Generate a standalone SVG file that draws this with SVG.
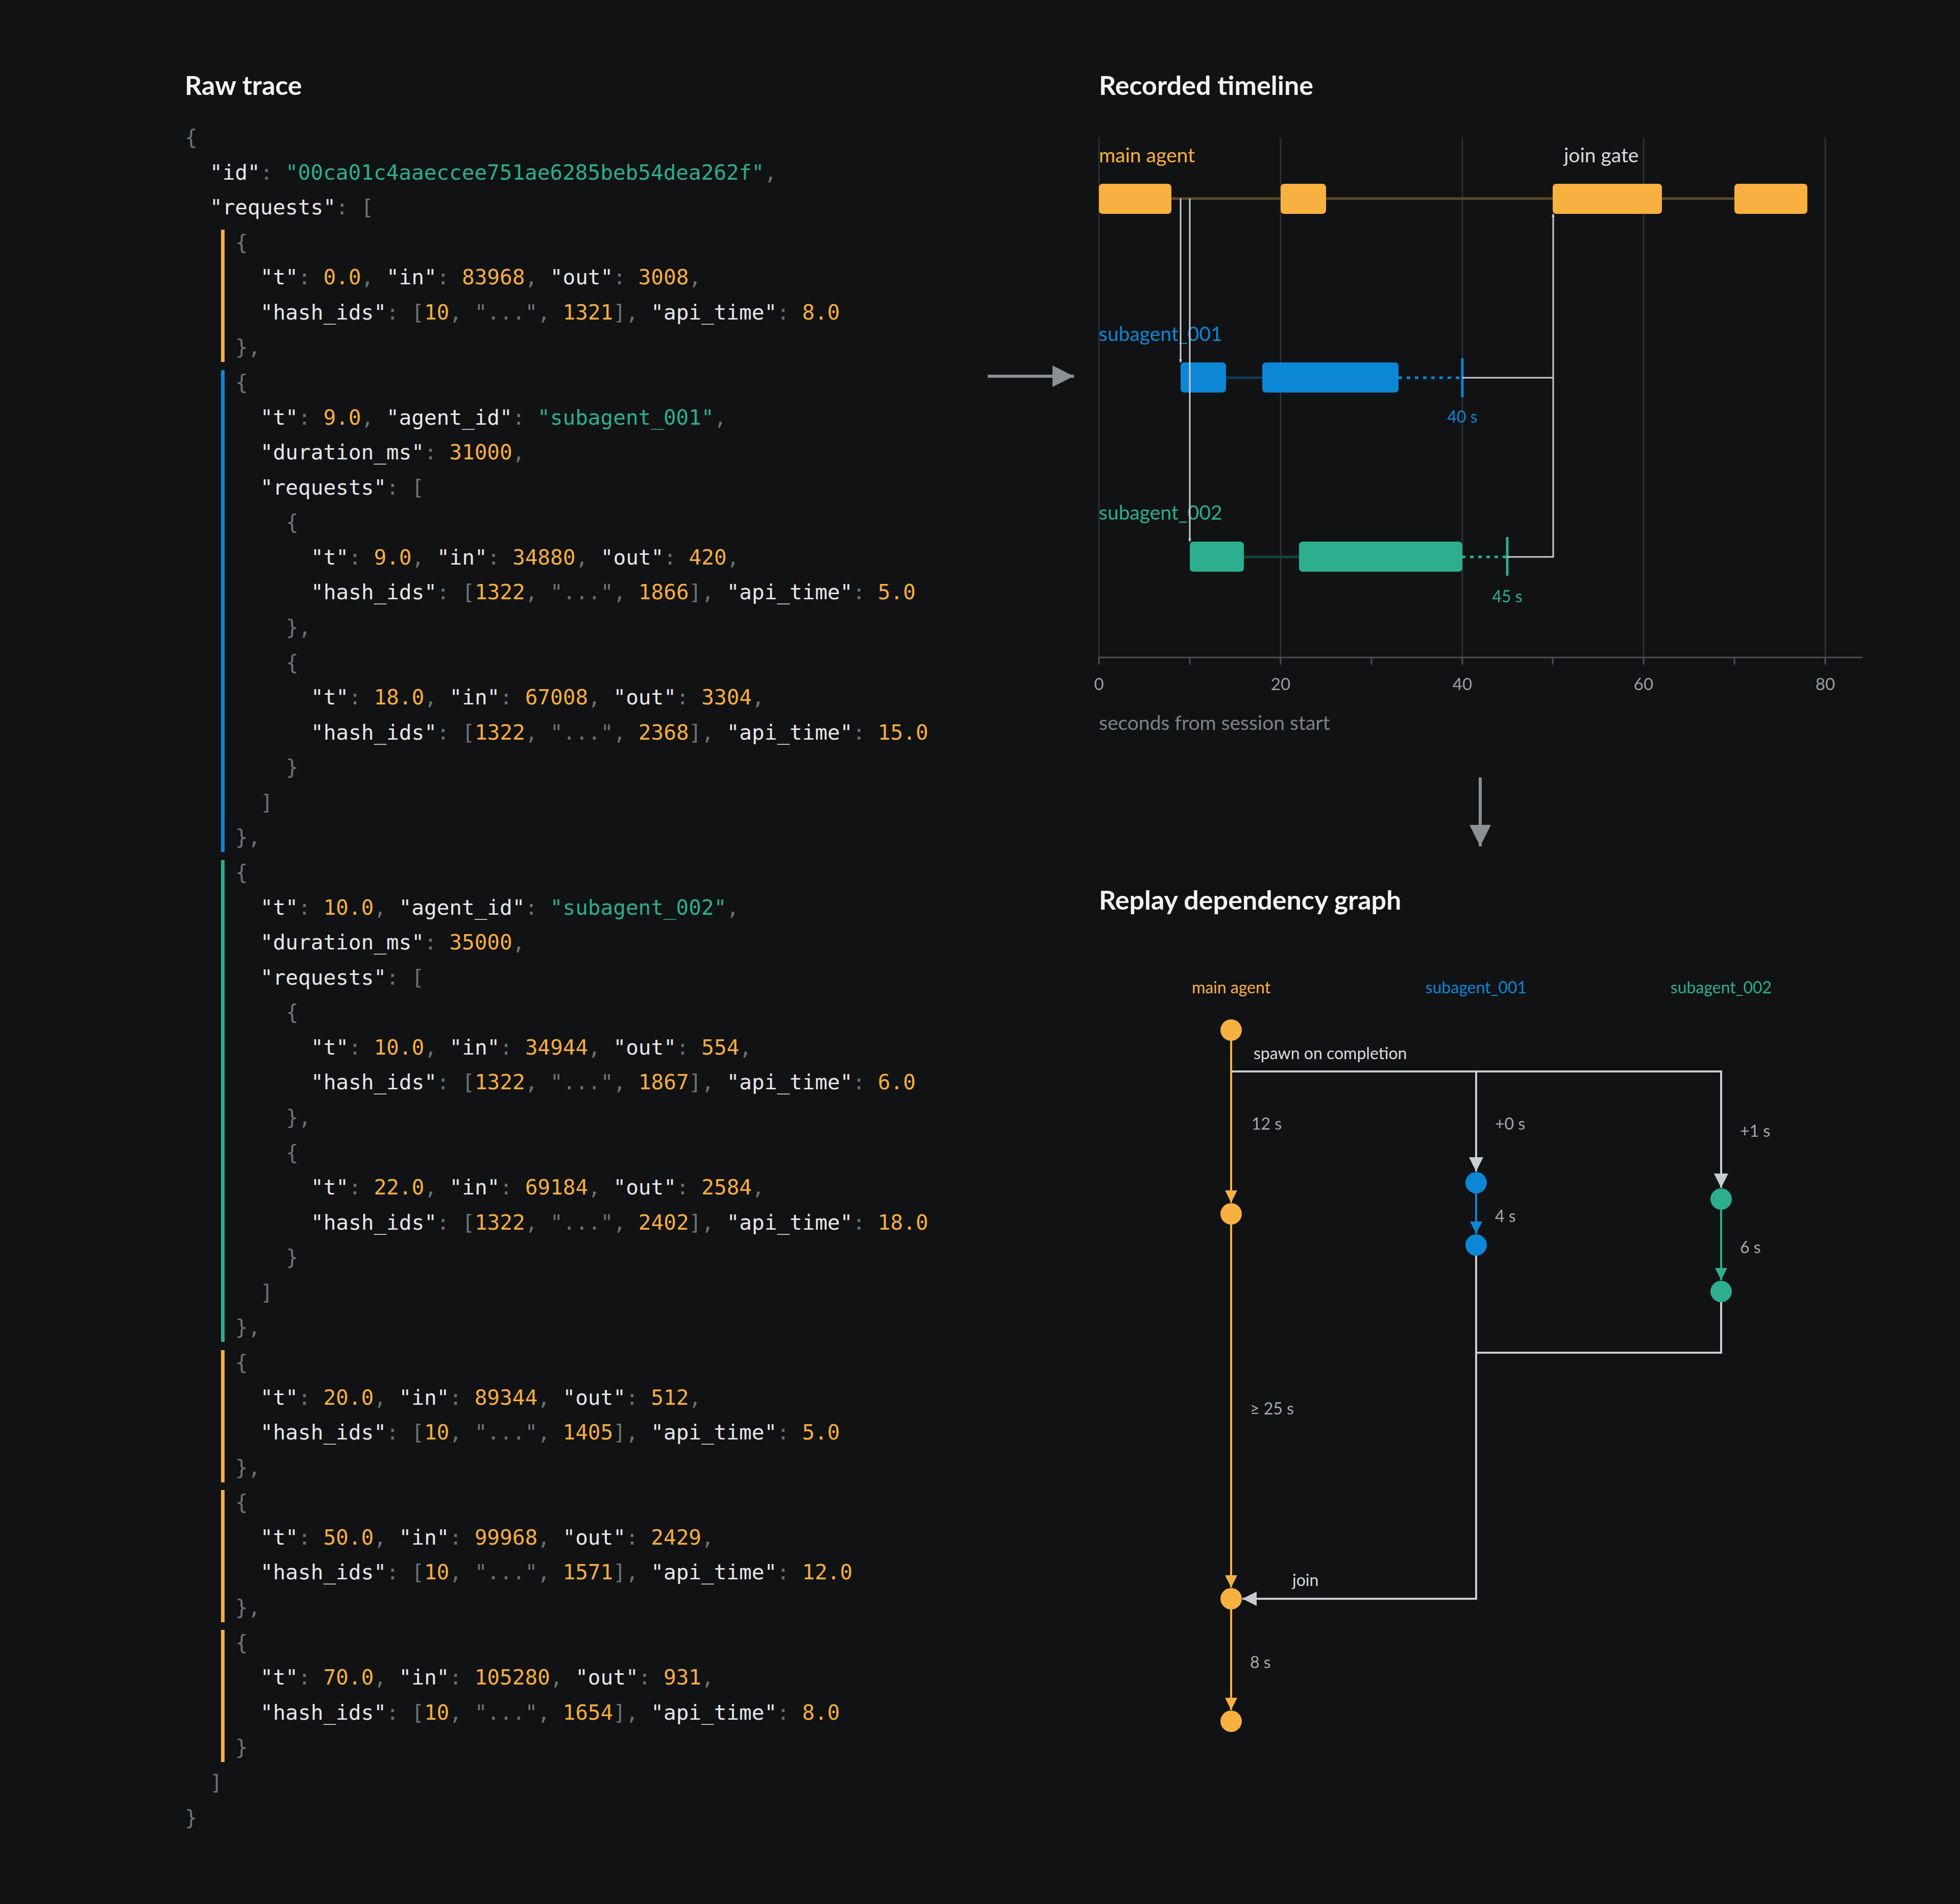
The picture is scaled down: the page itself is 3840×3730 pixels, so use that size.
<svg xmlns="http://www.w3.org/2000/svg" width="3840" height="3730" viewBox="0 0 3840 3730">
<style>
.code{font-family:"DejaVu Sans Mono","Liberation Mono",monospace;font-size:41px;fill:#e6e7e8}
.p{fill:#6d7277}.n{fill:#f6ae3f}.s{fill:#2cae8f}
.title{font-family:Lato,"Noto Sans",sans-serif;font-weight:bold;font-size:52px;fill:#f2f3f4}
.lab{font-family:Lato,"Noto Sans",sans-serif;font-size:39px}
.sm{font-family:Lato,"Noto Sans",sans-serif;font-size:32px}
.tick{font-family:Lato,"Noto Sans",sans-serif;font-size:33px;fill:#9a9fa4}
.g{stroke:#c9cdd1;stroke-width:4;fill:none}
.grid{stroke:#2c2f33;stroke-width:3}
</style>
<defs>
<marker id="ag" viewBox="0 0 10 10" refX="10" refY="5" markerWidth="6" markerHeight="6" markerUnits="userSpaceOnUse" orient="auto"><path d="M0,0L10,5L0,10z" fill="#c9cdd1"/></marker>
<marker id="agl" viewBox="0 0 10 10" refX="10" refY="5" markerWidth="7" markerHeight="7" orient="auto"><path d="M0,0L10,5L0,10z" fill="#c9cdd1"/></marker>
<marker id="ao" viewBox="0 0 10 10" refX="10" refY="5" markerWidth="6" markerHeight="6" orient="auto"><path d="M0,0L10,5L0,10z" fill="#f8b040"/></marker>
<marker id="ab" viewBox="0 0 10 10" refX="10" refY="5" markerWidth="6" markerHeight="6" orient="auto"><path d="M0,0L10,5L0,10z" fill="#0c87d5"/></marker>
<marker id="agr" viewBox="0 0 10 10" refX="10" refY="5" markerWidth="6" markerHeight="6" orient="auto"><path d="M0,0L10,5L0,10z" fill="#2cae8f"/></marker>
<marker id="abig" viewBox="0 0 10 10" refX="10" refY="5" markerWidth="7" markerHeight="7" orient="auto"><path d="M0,0L10,5L0,10z" fill="#8b9095"/></marker>
</defs>
<rect width="3840" height="3730" fill="#111214"/>

<g id="raw-trace">
<text class="title" x="362" y="186">Raw trace</text>
<g fill="#f8b040"><rect x="433" y="450" width="7" height="259"/><rect x="433" y="2645" width="7" height="259"/><rect x="433" y="2919" width="7" height="259"/><rect x="433" y="3193" width="7" height="259"/></g>
<rect x="433" y="725" width="7" height="944" fill="#0c87d5"/>
<rect x="433" y="1685" width="7" height="944" fill="#2cae8f"/>
<g class="code" xml:space="preserve">
<text x="362" y="283"><tspan class="p">{</tspan></text>
<text x="411" y="352">"id"<tspan class="p">: </tspan><tspan class="s">"00ca01c4aaeccee751ae6285beb54dea262f"</tspan><tspan class="p">,</tspan></text>
<text x="411" y="420">"requests"<tspan class="p">: [</tspan></text>
<text x="461" y="489"><tspan class="p">{</tspan></text>
<text x="510" y="557">"t"<tspan class="p">: </tspan><tspan class="n">0.0</tspan><tspan class="p">, </tspan>"in"<tspan class="p">: </tspan><tspan class="n">83968</tspan><tspan class="p">, </tspan>"out"<tspan class="p">: </tspan><tspan class="n">3008</tspan><tspan class="p">,</tspan></text>
<text x="510" y="626">"hash_ids"<tspan class="p">: [</tspan><tspan class="n">10</tspan><tspan class="p">, "...", </tspan><tspan class="n">1321</tspan><tspan class="p">], </tspan>"api_time"<tspan class="p">: </tspan><tspan class="n">8.0</tspan></text>
<text x="461" y="694"><tspan class="p">},</tspan></text>
<text x="461" y="763"><tspan class="p">{</tspan></text>
<text x="510" y="832">"t"<tspan class="p">: </tspan><tspan class="n">9.0</tspan><tspan class="p">, </tspan>"agent_id"<tspan class="p">: </tspan><tspan class="s">"subagent_001"</tspan><tspan class="p">,</tspan></text>
<text x="510" y="900">"duration_ms"<tspan class="p">: </tspan><tspan class="n">31000</tspan><tspan class="p">,</tspan></text>
<text x="510" y="969">"requests"<tspan class="p">: [</tspan></text>
<text x="560" y="1037"><tspan class="p">{</tspan></text>
<text x="609" y="1106">"t"<tspan class="p">: </tspan><tspan class="n">9.0</tspan><tspan class="p">, </tspan>"in"<tspan class="p">: </tspan><tspan class="n">34880</tspan><tspan class="p">, </tspan>"out"<tspan class="p">: </tspan><tspan class="n">420</tspan><tspan class="p">,</tspan></text>
<text x="609" y="1174">"hash_ids"<tspan class="p">: [</tspan><tspan class="n">1322</tspan><tspan class="p">, "...", </tspan><tspan class="n">1866</tspan><tspan class="p">], </tspan>"api_time"<tspan class="p">: </tspan><tspan class="n">5.0</tspan></text>
<text x="560" y="1243"><tspan class="p">},</tspan></text>
<text x="560" y="1312"><tspan class="p">{</tspan></text>
<text x="609" y="1380">"t"<tspan class="p">: </tspan><tspan class="n">18.0</tspan><tspan class="p">, </tspan>"in"<tspan class="p">: </tspan><tspan class="n">67008</tspan><tspan class="p">, </tspan>"out"<tspan class="p">: </tspan><tspan class="n">3304</tspan><tspan class="p">,</tspan></text>
<text x="609" y="1449">"hash_ids"<tspan class="p">: [</tspan><tspan class="n">1322</tspan><tspan class="p">, "...", </tspan><tspan class="n">2368</tspan><tspan class="p">], </tspan>"api_time"<tspan class="p">: </tspan><tspan class="n">15.0</tspan></text>
<text x="560" y="1517"><tspan class="p">}</tspan></text>
<text x="510" y="1586"><tspan class="p">]</tspan></text>
<text x="461" y="1654"><tspan class="p">},</tspan></text>
<text x="461" y="1723"><tspan class="p">{</tspan></text>
<text x="510" y="1792">"t"<tspan class="p">: </tspan><tspan class="n">10.0</tspan><tspan class="p">, </tspan>"agent_id"<tspan class="p">: </tspan><tspan class="s">"subagent_002"</tspan><tspan class="p">,</tspan></text>
<text x="510" y="1860">"duration_ms"<tspan class="p">: </tspan><tspan class="n">35000</tspan><tspan class="p">,</tspan></text>
<text x="510" y="1929">"requests"<tspan class="p">: [</tspan></text>
<text x="560" y="1997"><tspan class="p">{</tspan></text>
<text x="609" y="2066">"t"<tspan class="p">: </tspan><tspan class="n">10.0</tspan><tspan class="p">, </tspan>"in"<tspan class="p">: </tspan><tspan class="n">34944</tspan><tspan class="p">, </tspan>"out"<tspan class="p">: </tspan><tspan class="n">554</tspan><tspan class="p">,</tspan></text>
<text x="609" y="2134">"hash_ids"<tspan class="p">: [</tspan><tspan class="n">1322</tspan><tspan class="p">, "...", </tspan><tspan class="n">1867</tspan><tspan class="p">], </tspan>"api_time"<tspan class="p">: </tspan><tspan class="n">6.0</tspan></text>
<text x="560" y="2203"><tspan class="p">},</tspan></text>
<text x="560" y="2272"><tspan class="p">{</tspan></text>
<text x="609" y="2340">"t"<tspan class="p">: </tspan><tspan class="n">22.0</tspan><tspan class="p">, </tspan>"in"<tspan class="p">: </tspan><tspan class="n">69184</tspan><tspan class="p">, </tspan>"out"<tspan class="p">: </tspan><tspan class="n">2584</tspan><tspan class="p">,</tspan></text>
<text x="609" y="2409">"hash_ids"<tspan class="p">: [</tspan><tspan class="n">1322</tspan><tspan class="p">, "...", </tspan><tspan class="n">2402</tspan><tspan class="p">], </tspan>"api_time"<tspan class="p">: </tspan><tspan class="n">18.0</tspan></text>
<text x="560" y="2477"><tspan class="p">}</tspan></text>
<text x="510" y="2546"><tspan class="p">]</tspan></text>
<text x="461" y="2614"><tspan class="p">},</tspan></text>
<text x="461" y="2683"><tspan class="p">{</tspan></text>
<text x="510" y="2752">"t"<tspan class="p">: </tspan><tspan class="n">20.0</tspan><tspan class="p">, </tspan>"in"<tspan class="p">: </tspan><tspan class="n">89344</tspan><tspan class="p">, </tspan>"out"<tspan class="p">: </tspan><tspan class="n">512</tspan><tspan class="p">,</tspan></text>
<text x="510" y="2820">"hash_ids"<tspan class="p">: [</tspan><tspan class="n">10</tspan><tspan class="p">, "...", </tspan><tspan class="n">1405</tspan><tspan class="p">], </tspan>"api_time"<tspan class="p">: </tspan><tspan class="n">5.0</tspan></text>
<text x="461" y="2889"><tspan class="p">},</tspan></text>
<text x="461" y="2957"><tspan class="p">{</tspan></text>
<text x="510" y="3026">"t"<tspan class="p">: </tspan><tspan class="n">50.0</tspan><tspan class="p">, </tspan>"in"<tspan class="p">: </tspan><tspan class="n">99968</tspan><tspan class="p">, </tspan>"out"<tspan class="p">: </tspan><tspan class="n">2429</tspan><tspan class="p">,</tspan></text>
<text x="510" y="3094">"hash_ids"<tspan class="p">: [</tspan><tspan class="n">10</tspan><tspan class="p">, "...", </tspan><tspan class="n">1571</tspan><tspan class="p">], </tspan>"api_time"<tspan class="p">: </tspan><tspan class="n">12.0</tspan></text>
<text x="461" y="3163"><tspan class="p">},</tspan></text>
<text x="461" y="3232"><tspan class="p">{</tspan></text>
<text x="510" y="3300">"t"<tspan class="p">: </tspan><tspan class="n">70.0</tspan><tspan class="p">, </tspan>"in"<tspan class="p">: </tspan><tspan class="n">105280</tspan><tspan class="p">, </tspan>"out"<tspan class="p">: </tspan><tspan class="n">931</tspan><tspan class="p">,</tspan></text>
<text x="510" y="3369">"hash_ids"<tspan class="p">: [</tspan><tspan class="n">10</tspan><tspan class="p">, "...", </tspan><tspan class="n">1654</tspan><tspan class="p">], </tspan>"api_time"<tspan class="p">: </tspan><tspan class="n">8.0</tspan></text>
<text x="461" y="3437"><tspan class="p">}</tspan></text>
<text x="411" y="3506"><tspan class="p">]</tspan></text>
<text x="362" y="3575"><tspan class="p">}</tspan></text>
</g>
</g>

<g id="connectors-panels">
<line x1="1935" y1="737" x2="2104" y2="737" stroke="#8b9095" stroke-width="6" marker-end="url(#abig)"/>
<line x1="2900" y1="1523" x2="2900" y2="1658" stroke="#8b9095" stroke-width="6" marker-end="url(#abig)"/>
</g>

<g id="timeline">
<text class="title" x="2153" y="186">Recorded timeline</text>
<g class="grid"><line x1="2153" y1="269" x2="2153" y2="1288"/><line x1="2509" y1="269" x2="2509" y2="1288"/><line x1="2865" y1="269" x2="2865" y2="1288"/><line x1="3220" y1="269" x2="3220" y2="1288"/><line x1="3576" y1="269" x2="3576" y2="1288"/></g>
<line x1="2153" y1="1288" x2="3649" y2="1288" stroke="#4a4e53" stroke-width="3"/>
<g stroke="#4a4e53" stroke-width="3"><line x1="2153" y1="1288" x2="2153" y2="1302"/><line x1="2331" y1="1288" x2="2331" y2="1302"/><line x1="2509" y1="1288" x2="2509" y2="1302"/><line x1="2687" y1="1288" x2="2687" y2="1302"/><line x1="2865" y1="1288" x2="2865" y2="1302"/><line x1="3042" y1="1288" x2="3042" y2="1302"/><line x1="3220" y1="1288" x2="3220" y2="1302"/><line x1="3398" y1="1288" x2="3398" y2="1302"/><line x1="3576" y1="1288" x2="3576" y2="1302"/></g>
<g class="tick" text-anchor="middle"><text x="2153" y="1352">0</text><text x="2509" y="1352">20</text><text x="2865" y="1352">40</text><text x="3220" y="1352">60</text><text x="3576" y="1352">80</text></g>
<text class="lab" x="2153" y="1430" fill="#7d8287" font-size="36">seconds from session start</text>

<g id="tl-main">
<text class="lab" x="2153" y="318" fill="#f8b040">main agent</text>
<text class="lab" x="3064" y="318" fill="#d8dbde">join gate</text>
<line x1="2295" y1="389" x2="3399" y2="389" stroke="#5e4826" stroke-width="5"/>
<g fill="#f8b040"><rect x="2153" y="360" width="142" height="59" rx="7"/><rect x="2509" y="360" width="89" height="59" rx="7"/><rect x="3042" y="360" width="214" height="59" rx="7"/><rect x="3398" y="360" width="143" height="59" rx="7"/></g>
</g>
<g id="tl-sub1">
<text class="lab" x="2153" y="668" fill="#0c87d5">subagent_001</text>
<line x1="2402" y1="740" x2="2473" y2="740" stroke="#0f3a57" stroke-width="5"/>
<line x1="2740" y1="740" x2="2865" y2="740" stroke="#0c87d5" stroke-width="5" stroke-dasharray="7 9"/>
<g fill="#0c87d5"><rect x="2313" y="710" width="89" height="59" rx="7"/><rect x="2473" y="710" width="267" height="59" rx="7"/></g>
<line x1="2865" y1="702" x2="2865" y2="778" stroke="#0c87d5" stroke-width="5"/>
<text class="sm" x="2865" y="828" fill="#0c87d5" text-anchor="middle">40 s</text>
</g>
<g id="tl-sub2">
<text class="lab" x="2153" y="1018" fill="#2cae8f">subagent_002</text>
<line x1="2437" y1="1091" x2="2545" y2="1091" stroke="#15463c" stroke-width="5"/>
<line x1="2864" y1="1091" x2="2953" y2="1091" stroke="#2cae8f" stroke-width="5" stroke-dasharray="7 9"/>
<g fill="#2cae8f"><rect x="2331" y="1061" width="106" height="59" rx="7"/><rect x="2545" y="1061" width="320" height="59" rx="7"/></g>
<line x1="2953" y1="1052" x2="2953" y2="1128" stroke="#2cae8f" stroke-width="5"/>
<text class="sm" x="2953" y="1180" fill="#2cae8f" text-anchor="middle">45 s</text>
</g>
<g id="tl-connectors">
<path class="g" d="M2313,389V710" marker-end="url(#ag)" style="stroke-width:3"/>
<path class="g" d="M2331,389V1061" marker-end="url(#ag)" style="stroke-width:3"/>
<path class="g" d="M2865,740H3043" style="stroke-width:3"/>
<path class="g" d="M2953,1091H3043V419" marker-end="url(#ag)" style="stroke-width:3"/>
</g>
</g>

<g id="replay">
<text class="title" x="2153" y="1782">Replay dependency graph</text>
<g class="sm" text-anchor="middle"><text x="2412" y="1946" fill="#f8b040">main agent</text><text x="2892" y="1946" fill="#0c87d5">subagent_001</text><text x="3372" y="1946" fill="#2cae8f">subagent_002</text></g>
<g id="edges">
<path d="M2412,2018V2356" stroke="#f8b040" stroke-width="4" fill="none" marker-end="url(#ao)"/>
<path d="M2412,2378V3110" stroke="#f8b040" stroke-width="4" fill="none" marker-end="url(#ao)"/>
<path d="M2412,3132V3350" stroke="#f8b040" stroke-width="4" fill="none" marker-end="url(#ao)"/>
<path d="M2892,2317V2417" stroke="#0c87d5" stroke-width="4" fill="none" marker-end="url(#ab)"/>
<path d="M3372,2349V2508" stroke="#2cae8f" stroke-width="4" fill="none" marker-end="url(#agr)"/>
<path class="g" d="M2412,2099H3372V2327" marker-end="url(#agl)"/>
<path class="g" d="M2892,2099V2295" marker-end="url(#agl)"/>
<path class="g" d="M2892,2439V3132H2434" marker-end="url(#agl)"/>
<path class="g" d="M3372,2530V2650H2892"/>
</g>
<g id="nodes">
<circle cx="2412" cy="2018" r="21" fill="#f8b040"/><circle cx="2412" cy="2378" r="21" fill="#f8b040"/><circle cx="2412" cy="3132" r="21" fill="#f8b040"/><circle cx="2412" cy="3372" r="21" fill="#f8b040"/>
<circle cx="2892" cy="2317" r="21" fill="#0c87d5"/><circle cx="2892" cy="2439" r="21" fill="#0c87d5"/>
<circle cx="3372" cy="2349" r="21" fill="#2cae8f"/><circle cx="3372" cy="2530" r="21" fill="#2cae8f"/>
</g>
<g class="sm" fill="#a3a8ad">
<text x="2456" y="2075" fill="#d8dbde">spawn on completion</text>
<text x="2452" y="2213">12 s</text>
<text x="2929" y="2213">+0 s</text>
<text x="3409" y="2227">+1 s</text>
<text x="2929" y="2394">4 s</text>
<text x="3409" y="2455">6 s</text>
<text x="2449" y="2771">≥ 25 s</text>
<text x="2532" y="3107" fill="#d8dbde">join</text>
<text x="2449" y="3268">8 s</text>
</g>
</g>
</svg>
